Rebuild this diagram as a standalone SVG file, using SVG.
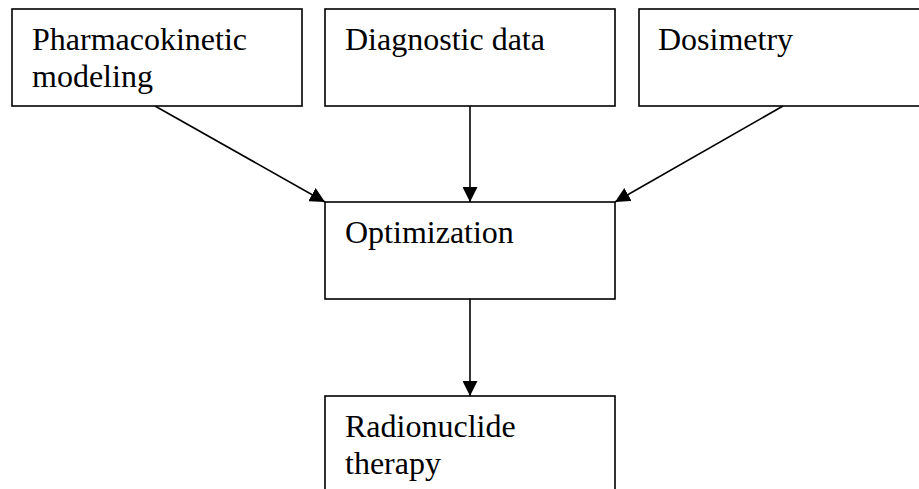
<svg xmlns="http://www.w3.org/2000/svg" width="919" height="489" viewBox="0 0 919 489">
  <style>
    .box { fill: #ffffff; stroke: #000000; stroke-width: 1.6; }
    .label { font-family: "Liberation Serif", "Times New Roman", serif; font-size: 32px; fill: #000000; }
    .edge { stroke: #000000; stroke-width: 1.6; fill: none; marker-end: url(#arrow); }
  </style>
  <defs>
    <marker id="arrow" viewBox="0 0 10 10" refX="10" refY="5" markerUnits="userSpaceOnUse" markerWidth="15" markerHeight="15" orient="auto">
      <path d="M0,0 L10,5 L0,10 Z" fill="#000000"/>
    </marker>
  </defs>
  <rect width="919" height="489" fill="#ffffff"/>

  <g id="connectors">
    <line class="edge" x1="155" y1="106" x2="325" y2="202"/>
    <line class="edge" x1="470" y1="106" x2="470" y2="202"/>
    <line class="edge" x1="783" y1="106" x2="615" y2="202"/>
    <line class="edge" x1="470" y1="299" x2="470" y2="396"/>
  </g>

  <g id="pharmacokinetic-modeling">
    <rect class="box" x="12" y="9" width="290" height="97"/>
    <text class="label" x="32" y="50">Pharmacokinetic</text>
    <text class="label" x="32" y="87">modeling</text>
  </g>

  <g id="diagnostic-data">
    <rect class="box" x="325" y="9" width="290" height="97"/>
    <text class="label" x="345" y="50">Diagnostic data</text>
  </g>

  <g id="dosimetry">
    <rect class="box" x="639" y="9" width="300" height="97"/>
    <text class="label" x="658" y="50">Dosimetry</text>
  </g>

  <g id="optimization">
    <rect class="box" x="325" y="202" width="290" height="97"/>
    <text class="label" x="345" y="243">Optimization</text>
  </g>

  <g id="radionuclide-therapy">
    <rect class="box" x="325" y="396" width="290" height="120"/>
    <text class="label" x="345" y="437">Radionuclide</text>
    <text class="label" x="345" y="474">therapy</text>
  </g>
</svg>
